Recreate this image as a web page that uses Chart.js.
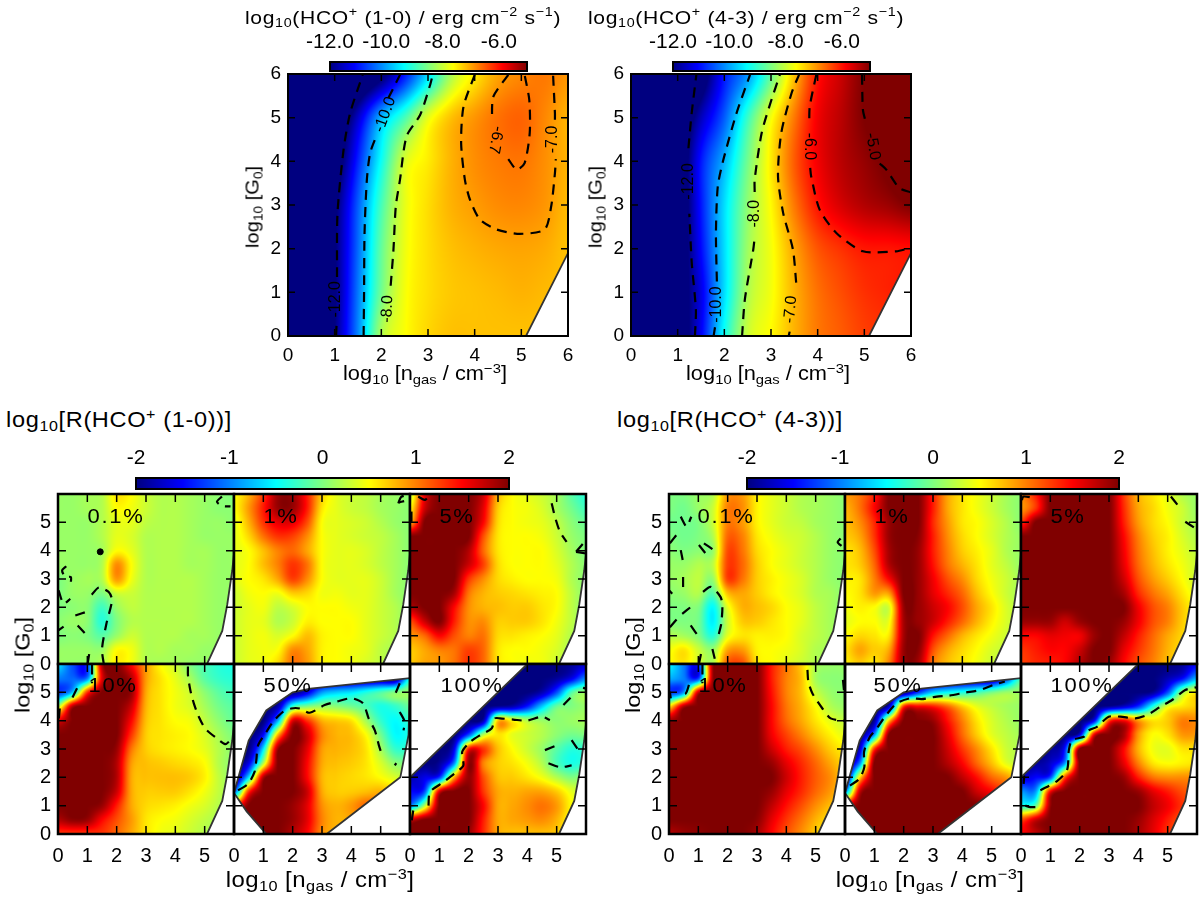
<!DOCTYPE html>
<html>
<head>
<meta charset="utf-8">
<title>HCO+ line emission grids</title>
<script src="https://cdn.jsdelivr.net/npm/chart.js@4/dist/chart.umd.min.js"></script>
<style>
    html, body { margin: 0; padding: 0; background: #fff; }
    #page { position: relative; width: 1200px; height: 901px; overflow: hidden; font-family: "Liberation Sans", Arial, sans-serif; color: #000; }
    #page canvas { position: absolute; }
    .txt { position: absolute; white-space: nowrap; line-height: 1; }
    .txt sub { font-size: 0.68em; vertical-align: -0.3em; line-height: 0; }
    .txt sup { font-size: 0.68em; vertical-align: 0.55em; line-height: 0; }
</style>
</head>
<body>
<div id="page"></div>
<script>
// axis ticks, shared by all panels
const axisTicks = [0, 1, 2, 3, 4, 5, 6];
const fluxTicks = [-12, -10, -8, -6];
const ratioTicks = [-2, -1, 0, 1, 2];

// log10 flux, rows G0 = 6 .. 0 (step 1), columns n = 0 .. 6 (step 0.5)
const gridFlux10 = [
    [-14, -14, -14, -13, -12.2, -11, -9.6, -8.2, -7.5, -7, -6.8, -6.7, -6.9],
    [-14, -14, -13, -11.5, -9.9, -8.9, -7.8, -7.2, -6.9, -6.65, -6.55, -6.8, -7.1],
    [-14, -14, -12.6, -10.9, -9.3, -7.9, -7.5, -7.1, -6.85, -6.72, -6.68, -6.85, -7.1],
    [-14, -14, -12.2, -10.5, -8.9, -7.8, -7.4, -7.1, -6.95, -6.83, -6.8, -6.9, -7.15],
    [-14, -14, -12.1, -10.4, -8.7, -7.75, -7.4, -7.2, -7.1, -7.03, -7, -7.05, -7.2],
    [-14, -14, -12.1, -10.3, -8.6, -7.7, -7.4, -7.25, -7.2, -7.15, -7.1, -7.15, -7.2],
    [-14, -14, -12, -10.2, -8.2, -7.65, -7.35, -7.2, -7.2, -7.2, -7.2, -7.2, -7.2]
];
const gridFlux43 = [
    [-14, -14, -14, -12.5, -11, -10.1, -8.7, -7.2, -6, -5.5, -5, -4.8, -4.7],
    [-14, -14, -13, -11.6, -10.5, -9, -7.7, -6.7, -5.8, -5.4, -5, -4.8, -4.6],
    [-14, -14, -12.8, -11, -9.9, -8.6, -7.5, -6.5, -5.8, -5.4, -5.15, -4.9, -4.6],
    [-14, -14, -12.8, -11, -9.6, -8.4, -7.6, -6.7, -6, -5.6, -5.35, -5.2, -5],
    [-14, -14, -12.7, -11.1, -9.6, -8.3, -7.7, -7, -6.45, -6.2, -6.02, -6, -5.95],
    [-14, -14, -12.6, -11.3, -9.6, -8.2, -7.7, -7.1, -6.65, -6.4, -6.2, -6.1, -6],
    [-14, -14, -12.7, -11.2, -9.3, -8, -7.6, -7.1, -6.7, -6.5, -6.3, -6.2, -6.1]
];

// log10 ratio, rows G0 = 6 .. 0 (step 0.5), columns n = 0 .. 6 (step 0.5)
const gridL01 = [
    [.1, .1, .15, .2, .6, .5, .3, .2, .2, .15, .1, .05, 0],
    [.1, .1, .15, .2, .5, .45, .3, .2, .2, .15, .1, .05, .05],
    [.1, .1, .1, .2, .4, .4, .25, .2, .2, .15, .1, .1, .05],
    [.1, .1, .1, .2, .4, .35, .2, .2, .2, .15, .1, .1, .1],
    [.1, .1, .1, .15, .5, .4, .2, .2, .2, .15, .15, .1, .1],
    [.1, .1, .1, .2, .95, .5, .2, .2, .2, .15, .15, .1, .1],
    [0, .1, .15, .2, .9, .45, .2, .2, .2, .2, .15, .1, .1],
    [0, .1, .1, 0, .3, .3, .2, .2, .2, .2, .15, .1, .1],
    [0, .05, .05, -.25, .1, .25, .2, .2, .2, .2, .15, .1, .1],
    [.05, .1, .05, -.35, 0, .2, .2, .2, .2, .2, .15, .1, .1],
    [0, .05, 0, -.15, .1, .3, .2, .2, .2, .15, .15, .1, .1],
    [.1, .1, .1, .1, .5, .45, .2, .2, .15, .15, .1, .1, .1],
    [.1, .1, .1, .2, .55, .45, .2, .15, .15, .1, .1, .1, .1]
];
const gridL1 = [
    [.5, .8, 1.3, 1.9, 1.9, 1.4, .7, .4, .3, .25, .15, .1, .05],
    [.5, .9, 1.4, 1.9, 1.9, 1.4, .6, .4, .3, .25, .15, .1, .05],
    [.4, .8, 1.3, 1.6, 1.6, 1.2, .5, .4, .35, .3, .2, .1, .05],
    [.4, .65, 1.05, 1.3, 1.25, .95, .5, .4, .35, .3, .25, .15, .05],
    [.4, .5, .75, 1, 1.1, .85, .5, .4, .4, .35, .25, .15, .05],
    [.4, .5, .75, 1, 1.3, 1.05, .5, .4, .4, .35, .25, .15, .05],
    [.4, .5, .6, .85, 1.25, .95, .5, .4, .4, .4, .3, .15, .05],
    [.3, .45, .5, .45, .7, .65, .45, .45, .4, .4, .3, .15, .05],
    [.3, .4, .45, .25, .35, .5, .5, .5, .45, .4, .3, .2, .05],
    [.3, .4, .4, .2, .3, .55, .5, .5, .5, .4, .3, .2, .05],
    [.3, .4, .45, .35, .5, .75, .55, .5, .5, .4, .3, .2, .05],
    [.3, .4, .45, .5, .95, .85, .55, .5, .45, .4, .25, .15, .05],
    [.3, .4, .45, .65, 1.05, .9, .55, .5, .45, .35, .25, .15, .05]
];
const gridL5 = [
    [.2, 1.6, 2, 2, 2, 1.7, .8, .5, .4, .3, .15, -.15, -.35],
    [.5, 1.7, 2, 2, 2, 1.6, .7, .5, .45, .35, .15, -.05, -.25],
    [.8, 2, 2, 2, 2, 1.5, .65, .5, .45, .4, .25, .05, -.1],
    [2, 2, 2, 2, 2, 1.2, .6, .5, .5, .45, .3, .1, 0],
    [2, 2, 2, 2, 1.8, 1.1, .6, .5, .5, .5, .35, .15, 0],
    [2, 2, 2, 2, 1.7, 1.25, .65, .5, .5, .5, .4, .2, .05],
    [2, 2, 2, 2, 1.3, .95, .65, .55, .5, .5, .45, .2, .05],
    [2, 2, 2, 1.85, 1.05, .8, .7, .65, .6, .55, .5, .25, .05],
    [1.8, 2, 2, 1.5, .95, .8, .75, .7, .7, .6, .5, .25, .05],
    [1.2, 1.7, 2, 1.4, .95, .95, .7, .7, .7, .6, .45, .25, .05],
    [.9, 1.1, 1.5, 1.2, 1, 1.05, .65, .6, .55, .5, .4, .2, .05],
    [.7, .85, 1, 1.05, 1.25, 1.1, .6, .5, .5, .45, .35, .15, .05],
    [.7, .85, .9, 1.05, 1.3, 1.1, .6, .5, .45, .45, .3, .15, .05]
];
const gridL10 = [
    [-.6, -1.2, -1.3, 1.8, 2, 1.5, .9, .5, .3, 0, -.2, -.35, -.4],
    [-1, -1.1, -1, 1.6, 2, 1.8, .9, .6, .4, .15, -.15, -.3, -.35],
    [-1.3, -.7, 1.3, 2, 2, 1.9, .85, .6, .45, .3, .05, -.15, -.25],
    [.2, 1.8, 2, 2, 2, 1.7, .8, .6, .45, .35, .15, -.05, -.15],
    [1.6, 2, 2, 2, 2, 1.5, .75, .6, .5, .45, .25, .05, -.1],
    [2, 2, 2, 2, 2, 1.3, .7, .6, .55, .5, .35, .15, 0],
    [2, 2, 2, 2, 1.9, 1.05, .7, .6, .55, .5, .4, .2, .05],
    [2, 2, 2, 2, 1.8, .9, .75, .7, .65, .6, .5, .2, .05],
    [2, 2, 2, 2, 1.8, .85, .75, .75, .75, .7, .55, .25, .05],
    [2, 2, 2, 2, 1.7, .85, .7, .7, .7, .6, .45, .25, .05],
    [2, 2, 2, 1.9, 1.4, .85, .65, .6, .55, .45, .35, .2, .05],
    [1.8, 1.95, 1.9, 1.5, 1.2, .9, .6, .5, .45, .35, .25, .15, .05],
    [1.3, 1.3, 1.3, 1.3, 1.1, .85, .6, .45, .4, .3, .2, .1, .05]
];
const gridL50 = [
    [-2, -2, -2, -2, -2, -2, -2, -2, -2, -2, -2, -2, -2],
    [-2, -2, -2, -2, -2, -2, -2, -2, -2, -2, -2, -2, -.5],
    [-2, -2, -2, -2, -2, -1.6, -.9, -.7, -.6, -.4, -.2, 0, .1],
    [-2, -2, -2, -1.8, -.3, 0, .1, .05, -.05, -.2, -.4, -.3, -.1],
    [-2, -2, -2, -.8, 1.6, 1.3, .8, .7, .6, .15, -.3, -.5, -.3],
    [-2, -2, -1.5, .8, 2, 1.7, 1, .8, .75, .5, -.05, -.5, -.4],
    [-2, -2, -.6, 1.9, 2, 1.6, .9, .8, .75, .6, .15, -.3, -.3],
    [-2, -1.6, .2, 2, 2, 1.5, .85, .75, .7, .6, .35, .05, 0],
    [-2, -.6, 1.8, 2, 2, 1.5, .8, .7, .65, .6, .5, .35, .25],
    [-1.2, 1.3, 2, 2, 2, 1.7, .85, .7, .7, .75, .8, .65, .45],
    [1.2, 2, 2, 2, 1.9, 1.6, .95, .8, .9, 1.1, 1.05, .95, .75],
    [2, 2, 2, 2, 1.9, 1.6, 1, .8, .85, .95, .95, .95, .75],
    [2, 2, 2, 2, 1.8, 1.5, .95, .8, .8, .85, .85, .85, .75]
];
const gridL100 = [
    [-2, -2, -2, -2, -2, -2, -2, -2, -2, -2, -2, -1.9, -1.7],
    [-2, -2, -2, -2, -2, -2, -2, -2, -2, -2, -1.9, -1.6, -1],
    [-2, -2, -2, -2, -2, -2, -2, -2, -2, -1.8, -1.2, -.2, .1],
    [-2, -2, -2, -2, -2, -2, -1.9, -1.8, -1.4, -.7, -.1, 0, .1],
    [-2, -2, -2, -2, -2, -1.8, .7, .5, .2, .1, .05, .1, .15],
    [-2, -2, -2, -2, -1.2, .2, .6, .4, .3, .2, .05, -.05, 0],
    [-2, -2, -2, -1.6, 1.4, 1.3, .75, .5, .3, .1, -.15, -.35, -.3],
    [-2, -2, -1.9, -1, 1.9, 1, .7, .6, .45, .2, -.2, -.4, -.3],
    [-1.8, -1.6, -1.3, .8, 1.9, 1.2, .75, .7, .6, .45, .2, 0, .1],
    [-1.5, -1.2, 1.6, 2, 2, 1.3, .85, .8, .85, .85, .7, .4, .2],
    [-1, .2, 2, 2, 2, 1.5, .85, .85, .95, 1.05, .9, .5, .2],
    [1.7, 2, 2, 2, 2, 1.4, .85, .85, .9, .95, .8, .45, .2],
    [2, 2, 2, 2, 1.9, 1.35, .85, .75, .75, .75, .7, .4, .2]
];
const gridR01 = [
    [0, 0, .1, .2, .9, .9, .55, .4, .3, .2, .15, .1, .05],
    [0, -.05, .1, .3, 1, .95, .55, .4, .3, .2, .15, .1, .05],
    [-.05, -.05, 0, .3, 1, .9, .55, .4, .3, .25, .15, .1, .05],
    [0, -.05, 0, .2, 1.1, 1, .6, .45, .35, .3, .2, .1, .05],
    [.05, 0, .05, .1, 1.2, 1.05, .65, .5, .4, .3, .2, .1, .05],
    [.1, .1, .2, .25, 1.25, 1.1, .7, .5, .4, .3, .2, .1, .05],
    [.1, .15, .25, .1, 1.25, 1.05, .7, .55, .45, .35, .2, .1, .05],
    [.05, .1, .2, -.15, .75, .85, .7, .55, .45, .35, .2, .15, .05],
    [0, 0, 0, -.5, .4, .8, .75, .65, .5, .4, .25, .15, .05],
    [0, 0, -.05, -.55, .3, .7, .7, .6, .5, .4, .25, .15, .05],
    [.2, .15, 0, -.35, .4, .6, .55, .55, .5, .35, .25, .15, .05],
    [.45, .6, .3, .1, .85, .9, .55, .5, .45, .35, .2, .15, .05],
    [.5, .6, .35, .2, 1.15, 1.2, .6, .5, .4, .3, .2, .1, .05]
];
const gridR1 = [
    [.9, 1.05, 1.4, 2, 2, 2, 1.4, .85, .6, .45, .3, .15, .05],
    [.8, 1.05, 1.5, 2, 2, 2, 1.4, .85, .6, .45, .3, .15, .05],
    [.75, .95, 1.35, 1.9, 2, 2, 1.35, .9, .6, .5, .35, .2, .05],
    [.7, .85, 1.3, 1.9, 2, 1.95, 1.4, .95, .65, .5, .35, .2, .1],
    [.6, .75, 1.2, 1.85, 2, 1.9, 1.4, 1, .7, .55, .4, .2, .1],
    [.6, .7, 1.1, 1.8, 2, 1.9, 1.45, 1.05, .8, .6, .4, .25, .1],
    [.55, .6, 1, 1.5, 2, 1.9, 1.55, 1.2, .95, .65, .45, .3, .15],
    [.5, .6, .9, .9, 2, 1.9, 1.6, 1.35, 1.1, .75, .5, .3, .15],
    [.45, .55, .5, .35, 1.9, 1.9, 1.7, 1.5, 1.2, .85, .6, .35, .2],
    [.4, .5, .5, .45, 1.85, 1.9, 1.7, 1.4, 1.1, .8, .55, .35, .2],
    [.5, .65, .6, .6, 1.85, 2, 1.45, 1.1, .8, .6, .45, .3, .15],
    [.6, .85, .7, .85, 1.9, 1.95, 1.2, .85, .65, .5, .35, .25, .15],
    [.55, .7, .6, 1, 1.9, 1.85, 1.05, .75, .6, .45, .3, .2, .1]
];
const gridR5 = [
    [1, 1.4, 2, 2, 2, 2, 2, 1.3, .8, .6, .4, .2, .1],
    [.9, 1.3, 2, 2, 2, 2, 2, 1.35, .85, .65, .45, .3, .1],
    [1.3, 2, 2, 2, 2, 2, 2, 1.4, .9, .65, .5, .3, .15],
    [2, 2, 2, 2, 2, 2, 2, 1.5, 1, .7, .55, .35, .2],
    [2, 2, 2, 2, 2, 2, 2, 1.55, 1.05, .75, .55, .4, .25],
    [2, 2, 2, 2, 2, 2, 2, 1.6, 1.1, .8, .6, .45, .3],
    [2, 2, 2, 2, 2, 2, 2, 1.7, 1.2, .9, .7, .5, .3],
    [2, 2, 2, 2, 2, 2, 2, 1.85, 1.35, 1.05, .85, .6, .4],
    [2, 2, 2, 2, 2, 2, 2, 2, 1.55, 1.2, 1, .7, .5],
    [1.9, 1.9, 1.9, 1.7, 1.9, 2, 2, 1.9, 1.55, 1.2, 1, .7, .5],
    [1.5, 1.5, 1.6, 1.55, 1.55, 1.9, 2, 1.75, 1.4, 1.1, .85, .65, .4],
    [1.3, 1.4, 1.5, 1.5, 1.7, 2, 2, 1.6, 1.3, 1.05, .8, .6, .4],
    [1.25, 1.35, 1.4, 1.5, 1.8, 2, 1.9, 1.5, 1.2, 1, .75, .55, .35]
];
const gridR10 = [
    [-.5, -1, -1.4, 1.9, 2, 2, 2, 1.4, 1.05, .7, .2, .1, .1],
    [-.8, -1, -1.3, 1.9, 2, 2, 2, 1.4, 1, .75, .15, .05, .05],
    [-1.3, -.9, 1.7, 2, 2, 2, 2, 1.45, 1, .75, .3, .1, .05],
    [.6, 1.8, 2, 2, 2, 2, 2, 1.5, 1.05, .8, .5, .2, .1],
    [1.9, 2, 2, 2, 2, 2, 2, 1.5, 1.1, .85, .6, .4, .25],
    [2, 2, 2, 2, 2, 2, 2, 1.55, 1.25, 1, .75, .55, .4],
    [2, 2, 2, 2, 2, 2, 2, 1.7, 1.4, 1.2, .95, .7, .55],
    [2, 2, 2, 2, 2, 2, 2, 1.9, 1.6, 1.35, 1.1, .85, .65],
    [2, 2, 2, 2, 2, 2, 2, 2, 1.7, 1.4, 1.15, .95, .7],
    [2, 2, 2, 2, 2, 2, 2, 1.9, 1.6, 1.35, 1.1, .9, .65],
    [2, 2, 2, 2, 2, 2, 2, 1.75, 1.45, 1.2, .95, .75, .55],
    [2, 2, 2, 2, 2, 2, 1.95, 1.6, 1.3, 1.05, .8, .6, .45],
    [1.8, 1.9, 1.95, 2, 2, 2, 1.85, 1.5, 1.2, .95, .7, .5, .4]
];
const gridR50 = [
    [-2, -2, -2, -2, -2, -2, -2, -2, -2, -2, -2, -2, -2],
    [-2, -2, -2, -2, -2, -2, -2, -2, -2, -2, -2, -1.3, -.3],
    [-2, -2, -2, -2, -2, -1.3, -.7, -.5, -.4, -.25, -.05, .1, .1],
    [-2, -2, -2, -1.7, 1.3, 1.5, 1.4, 1.1, .7, .4, .25, .15, .1],
    [-2, -2, -1.9, .7, 2, 2, 1.9, 1.45, 1, .6, .35, .2, .1],
    [-2, -2, -.9, 2, 2, 2, 2, 1.6, 1.1, .7, .4, .25, .15],
    [-2, -1.7, 1.3, 2, 2, 2, 2, 1.7, 1.3, .95, .6, .3, .2],
    [-2, -1, 2, 2, 2, 2, 2, 1.8, 1.5, 1.1, .75, .4, .25],
    [-2, .6, 2, 2, 2, 2, 2, 2, 1.75, 1.45, 1.1, .9, .6],
    [-1, 1.7, 2, 2, 2, 2, 2, 2, 2, 1.7, 1.5, 1.2, .9],
    [1.7, 2, 2, 2, 2, 2, 2, 2, 2, 2, 1.8, 1.5, 1.2],
    [2, 2, 2, 2, 2, 2, 2, 2, 2, 2, 1.8, 1.5, 1.2],
    [2, 2, 2, 2, 2, 2, 2, 2, 2, 1.9, 1.7, 1.4, 1.2]
];
const gridR100 = [
    [-2, -2, -2, -2, -2, -2, -2, -2, -2, -2, -2, -1.9, -1.5],
    [-2, -2, -2, -2, -2, -2, -2, -2, -2, -2, -1.8, -1.5, -.8],
    [-2, -2, -2, -2, -2, -2, -2, -2, -2, -1.9, -1.2, .1, .55],
    [-2, -2, -2, -2, -2, -2, -1.9, -1.7, -1.3, -.4, .4, .6, .7],
    [-2, -2, -2, -2, -2, -1.5, 1.2, 1.5, .9, .6, .7, 1, .95],
    [-2, -2, -2, -2, -1.6, 1.6, 2, 1.85, .9, .5, .6, .9, .9],
    [-2, -2, -1.9, -1.4, 2, 2, 2, 1.5, .8, .45, .4, .6, .6],
    [-2, -1.9, -1.7, -.9, 2, 2, 2, 1.6, 1, .6, .5, .55, .6],
    [-1.7, -1.5, -1.2, 1.2, 2, 2, 2, 1.9, 1.4, 1.05, .95, .95, .95],
    [-.9, -.9, 1.5, 2, 2, 2, 2, 2, 1.9, 1.6, 1.4, 1.2, 1.1],
    [-.4, -.1, 1.9, 2, 2, 2, 2, 2, 2, 1.75, 1.55, 1.3, 1.1],
    [1.2, 1.7, 2, 2, 2, 2, 2, 2, 1.9, 1.65, 1.4, 1.15, 1],
    [1.5, 1.75, 2, 2, 2, 2, 2, 2, 1.85, 1.6, 1.3, 1.1, .95]
];

// edge of the model grid in each panel type
const domainTop = [[0, 0], [5.1, 0], [6, 1.9], [6, 6], [0, 6], [0, 0]];
const domainFull = [[0, 0], [5.08, 0], [5.6, 1.17], [5.77, 2.1], [5.94, 3.3], [6, 3.9], [6, 6], [0, 6], [0, 0]];
const domain50 = [[1.1, 0], [.43, .8], [0, 1.45], [.5, 3.3], [1.1, 4.36], [2, 5], [2.6, 5.13], [6, 5.5], [5.95, 3.5], [5.67, 2], [3.16, 0], [1.1, 0]];
const domain100 = [[0, 0], [5.08, 0], [5.6, 1.17], [5.77, 2.1], [5.94, 3.3], [6, 3.9], [6, 6], [4, 6], [0, 2], [0, 0]];

// dashed contours
const contFlux10 = [
    [[1.03, 0], [1.04, .25]], [[1.05, 1.35], [1.06, 2.8], [1.19, 4.26], [1.33, 5.1], [1.6, 5.98]],
    [[1.62, 0], [1.63, 1], [1.64, 2.36], [1.69, 3.58], [1.76, 4.19], [1.9, 4.6]], [[2.15, 5.45], [2.4, 5.98]],
    [[2.2, 1.15], [2.26, 1.98], [2.31, 2.97], [2.4, 3.58], [2.54, 4.57], [2.83, 5.06], [3.04, 5.73], [3.1, 5.98]],
    [[4, 5.98], [3.76, 5.25], [3.71, 4.42], [3.79, 3.58], [3.9, 3.12], [4.11, 2.67], [4.47, 2.44], [4.97, 2.34], [5.5, 2.44], [5.64, 2.97], [5.72, 3.73], [5.74, 4.05]],
    [[5.72, 4.95], [5.72, 5.1], [5.68, 5.98]],
    [[4.72, 5.98], [4.4, 5.48], [4.37, 4.95]], [[4.72, 4.05], [4.9, 3.81], [5.07, 3.96], [5.18, 4.65], [5.17, 5.41], [5.07, 5.98]]
];
const contFlux43 = [
    [[1.37, 0], [1.39, .6], [1.3, 1.7], [1.25, 2.8]], [[1.23, 4.3], [1.3, 5.1], [1.4, 5.98]],
    [[1.77, 0], [1.8, .2]], [[1.84, 1.25], [1.82, 2.36], [1.86, 3.43], [1.98, 4.04], [2.26, 5.1], [2.55, 5.98]],
    [[2.38, 0], [2.44, .84], [2.62, 1.98], [2.65, 2.25]], [[2.65, 3.3], [2.65, 3.58], [2.8, 4.65], [3.01, 5.41], [3.19, 5.98]],
    [[3.38, 0], [3.4, .1]], [[3.54, 1.22], [3.47, 1.98], [3.26, 2.82], [3.15, 3.66], [3.22, 4.65], [3.44, 5.56], [3.6, 5.98]],
    [[3.97, 5.98], [3.83, 5.25], [3.82, 4.85]], [[3.84, 3.85], [3.86, 3.66], [4.04, 2.9], [4.4, 2.36], [4.97, 1.94], [5.68, 1.94], [5.99, 2.02]],
    [[4.95, 5.98], [4.97, 5.18], [5.03, 4.9]], [[5.33, 3.95], [5.47, 3.81], [5.75, 3.39], [5.99, 3.29]]
];
const contL01 = [
    [[1.01, 0], [1.08, .47]],
    [[1.56, 0], [1.5, .53], [1.65, 1.42], [1.84, 2.25], [1.73, 2.54], [1.39, 2.7], [1.13, 2.42]],
    [[.59, 1.71], [1.05, 1.87]], [[.67, 1.36], [.99, 1]], [[0, 1.18], [.19, 1.32]],
    [[.02, 2.6], [.19, 2.13], [.42, 2.3]],
    [[.28, 3.45], [.14, 3.3], [.25, 3.07], [.44, 3.07], [.44, 2.9]],
    [[5.59, 5.91], [5.42, 5.73], [5.59, 5.58], [5.88, 5.56]]
];
const dotsL01 = [[1.44, 3.96]];
const contL1 = [[[5.6, 5.67], [5.7, 5.9], [5.94, 5.97]], [[5.62, 5.7], [5.8, 5.75]]];
const contL5 = [
    [[4.83, 5.67], [4.94, 5.2], [5.11, 4.67], [5.34, 4.31]],
    [[5.66, 3.96], [6, 4.37]], [[5.66, 3.96], [6, 3.9]],
    [[.28, 5.91], [.51, 5.79], [.68, 5.97]], [[.05, 5.38], [.05, 4.96]]
];
const contL10 = [
    [[1.16, 5.98], [1.16, 5.32]], [[.65, 5.14], [.48, 4.79]], [[.06, 4.43], [.02, 3.96]],
    [[4.43, 5.91], [4.43, 5.61], [4.51, 5.08], [4.63, 4.61], [4.8, 4.14], [5.02, 3.72], [5.42, 3.37], [5.7, 3.17], [5.88, 3.31]]
];
const contL50 = [
    [[.14, 1.54], [.48, 1.77], [.7, 2.19], [.76, 2.6], [.82, 3.13], [1.1, 3.6], [1.33, 3.96], [1.67, 4.31], [1.95, 4.43], [2.24, 4.43], [2.58, 4.28], [3.09, 4.55], [3.49, 4.67], [4, 4.79], [4.4, 4.61], [4.59, 4.08], [4.8, 3.66], [4.94, 3.13], [5.06, 2.74]],
    [[5.48, 2.42], [5.53, 2.5]],
    [[5.65, 5.32], [5.48, 4.9]], [[5.65, 4.31], [5.82, 3.96], [5.78, 3.66]]
];
const contL100 = [
    [[.11, .83], [.06, .47]],
    [[.63, 1], [.68, 1.48], [1.14, 1.83], [1.59, 2.19], [1.82, 2.42], [1.78, 2.9], [2.05, 3.25], [2.39, 3.49], [2.78, 3.72], [2.9, 4.08], [3.07, 4.08], [3.52, 4.04], [3.98, 4], [4.49, 4.14], [4.77, 4.02]],
    [[5.23, 4.55], [5.51, 4.85]], [[5.97, 5.14], [5.9, 5.16]],
    [[4.6, 2.96], [5, 3.13]], [[5.51, 3.31], [5.74, 2.96]], [[4.72, 2.5], [5.11, 2.36], [5.51, 2.42]]
];
const contR01 = [
    [[.4, 5.2], [.6, 4.85], [.76, 5.2]], [[.03, 4.26], [.28, 4.59]], [[.4, 4.02], [.49, 3.55]],
    [[.48, 3.07], [.48, 2.6]], [[0, 2.6], [.11, 2.48]], [[.45, 1.77], [.74, 2.01]], [[.03, 1.3], [.28, 1.6]],
    [[.74, 1.36], [1.02, .95]], [[1.02, 0], [1.1, .41]], [[1.48, .53], [1.59, .06]],
    [[1.7, 1.06], [1.78, 1.42], [1.82, 2.01], [1.76, 2.36], [1.42, 2.72], [1.02, 2.42]],
    [[1.02, 4.2], [1.25, 3.9]], [[1.19, 4.26], [1.53, 4.02]], [[5.85, 4.43], [5.75, 4.3], [5.91, 4.14]]
];
const contR1 = [];
const contR5 = [
    [[.03, 5.79], [.08, 5.91], [.43, 5.87]], [[5.11, 5.91], [5.38, 5.56]], [[5.6, 5.02], [5.94, 4.79]]
];
const contR10 = [
    [[1.14, 5.98], [1.14, 5.32]], [[.68, 5.26], [.57, 4.96], [.34, 4.9]], [[.03, 5.02], [.06, 4.79]],
    [[4.72, 5.79], [4.75, 5.38], [4.89, 4.96], [5.23, 4.43], [5.51, 4.08], [5.97, 4]],
    [[5.93, 5.44], [5.97, 5.02]]
];
const contR50 = [
    [[.17, 1.71], [.49, 1.95], [.66, 2.36], [.65, 2.9], [.85, 3.43], [1.08, 3.72], [1.36, 4.14], [1.76, 4.61], [2.22, 4.79], [2.61, 4.76], [3.13, 4.85], [3.52, 4.88], [4.09, 4.99], [4.6, 5.08], [5.06, 5.26], [5.45, 5.38]]
];
const contR100 = [
    [[.15, 1], [.32, .95], [.55, .95]], [[.09, 1.77], [.11, 2.07]],
    [[.66, 1.54], [1.23, 1.87], [1.57, 2.25], [1.63, 2.95], [1.74, 3.31], [2.14, 3.43], [2.31, 3.66], [2.59, 3.78], [2.99, 4.14], [3.39, 4.14], [3.9, 4.08], [4.3, 4.2], [4.75, 4.49], [5.15, 4.73], [5.6, 5.08], [5.98, 5.18]]
];

// inline contour labels: text, n, G0, angle
const labelsFlux10 = [['-12.0', 1.01, .84, -90], ['-10.0', 2.08, 5.07, -70], ['-8.0', 2.13, .62, -88], ['-6.7', 4.45, 4.49, 100], ['-7.0', 5.68, 4.5, -90]];
const labelsFlux43 = [['-12.0', 1.23, 3.54, -90], ['-10.0', 1.84, .72, -90], ['-8.0', 2.65, 2.8, -90], ['-7.0', 3.42, .61, -85], ['-6.0', 3.83, 4.34, 90], ['-5.0', 5.18, 4.34, 80]];

const NX = 13;
const page = document.getElementById('page');

function jet(t) {
    const c = v => Math.max(0, Math.min(1, v));
    const u = c(t);
    return [c(1.5 - Math.abs(4 * u - 3)) * 255, c(1.5 - Math.abs(4 * u - 2)) * 255, c(1.5 - Math.abs(4 * u - 1)) * 255];
}

function cubic(a, b, c, d, t) {
    return b + 0.5 * t * (c - a + t * (2 * a - 5 * b + 4 * c - d + t * (3 * (b - c) + d - a)));
}

// smooth shading between the grid values, like imshow's interpolation
function sampleCells(cells, ny, gx, gy) {
    const ix = Math.floor(gx), iy = Math.floor(gy);
    const at = (r, c) => cells[Math.max(0, Math.min(ny - 1, r)) * NX + Math.max(0, Math.min(NX - 1, c))].v;
    const row = r => cubic(at(r, ix - 1), at(r, ix), at(r, ix + 1), at(r, ix + 2), gx - ix);
    return cubic(row(iy - 1), row(iy), row(iy + 1), row(iy + 2), gy - iy);
}

const heatPlugin = {
    id: 'heat',
    beforeDatasetsDraw(chart, args, opts) {
        if (!opts.range) return;
        const { ctx, chartArea: a, scales: { x, y } } = chart;
        const w = Math.round(a.right - a.left), h = Math.round(a.bottom - a.top);
        const off = document.createElement('canvas');
        off.width = w; off.height = h;
        const octx = off.getContext('2d');
        const img = octx.createImageData(w, h);
        const cells = chart.data.datasets[0].data;
        const ny = cells.length / NX;
        const [lo, hi] = opts.range;
        for (let j = 0; j < h; j++) {
            const gv = y.getValueForPixel(a.top + j + 0.5);
            for (let i = 0; i < w; i++) {
                const xv = x.getValueForPixel(a.left + i + 0.5);
                const v = opts.bar ? xv : sampleCells(cells, ny, xv / 0.5, (6 - gv) / (6 / (ny - 1)));
                const rgb = jet((v - lo) / (hi - lo));
                const k = (j * w + i) * 4;
                img.data[k] = rgb[0]; img.data[k + 1] = rgb[1]; img.data[k + 2] = rgb[2]; img.data[k + 3] = 255;
            }
        }
        octx.putImageData(img, 0, 0);
        ctx.save();
        if (opts.domain) {
            ctx.beginPath();
            opts.domain.forEach((p, i) => {
                const px = x.getPixelForValue(p[0]), py = y.getPixelForValue(p[1]);
                if (i) ctx.lineTo(px, py); else ctx.moveTo(px, py);
            });
            ctx.clip();
        }
        ctx.drawImage(off, a.left, a.top);
        ctx.restore();
    },
    afterDatasetsDraw(chart, args, opts) {
        const { ctx, chartArea: a, scales: { x, y } } = chart;
        ctx.save();
        (opts.labels || []).forEach(l => {
            ctx.save();
            ctx.translate(x.getPixelForValue(l[1]), y.getPixelForValue(l[2]));
            ctx.rotate(l[3] * Math.PI / 180);
            ctx.font = '16px "Liberation Sans"';
            ctx.fillStyle = '#000';
            ctx.textAlign = 'center';
            ctx.textBaseline = 'middle';
            ctx.fillText(l[0], 0, 0);
            ctx.restore();
        });
        ctx.strokeStyle = '#000';
        if (opts.tickLen) {
            ctx.lineWidth = 1.5;
            ctx.beginPath();
            axisTicks.forEach(v => {
                const px = x.getPixelForValue(v), py = y.getPixelForValue(v);
                ctx.moveTo(px, a.bottom); ctx.lineTo(px, a.bottom - opts.tickLen);
                ctx.moveTo(px, a.top); ctx.lineTo(px, a.top + opts.tickLen);
                ctx.moveTo(a.left, py); ctx.lineTo(a.left + opts.tickLen, py);
                ctx.moveTo(a.right, py); ctx.lineTo(a.right - opts.tickLen, py);
            });
            ctx.stroke();
        }
        ctx.lineWidth = opts.frame || 2;
        ctx.strokeRect(a.left, a.top, a.right - a.left, a.bottom - a.top);
        ctx.restore();
    }
};

function addCanvas(left, top, w, h) {
    const cv = document.createElement('canvas');
    cv.width = w; cv.height = h;
    cv.style.left = left + 'px';
    cv.style.top = top + 'px';
    cv.style.width = w + 'px';
    cv.style.height = h + 'px';
    page.appendChild(cv);
    return cv;
}

function addText(html, x, y, size, opts) {
    const o = opts || {};
    const el = document.createElement('div');
    el.className = 'txt';
    el.innerHTML = html;
    el.style.left = x + 'px';
    el.style.top = y + 'px';
    el.style.fontSize = size + 'px';
    if (o.spacing) el.style.letterSpacing = o.spacing + 'px';
    el.style.transform = 'translate(-50%,-50%)' + (o.rot ? ' rotate(' + o.rot + 'deg)' : '') + (o.sx ? ' scaleX(' + o.sx + ')' : '');
    page.appendChild(el);
}

function lineDataset(points, dash, width, color) {
    return {
        type: 'line',
        data: points.map(p => ({ x: p[0], y: p[1] })),
        borderColor: color,
        borderWidth: width,
        borderDash: dash,
        pointRadius: 0,
        tension: dash.length ? 0.25 : 0,
        fill: false
    };
}

// the tick labels must not push the plot area in
function zeroPadding(s) {
    s.paddingLeft = 0; s.paddingRight = 0; s.paddingTop = 0; s.paddingBottom = 0;
}

function drawPanel(p) {
    const ml = 44, mb = 32, mt = 10, mr = 10;
    const w = p.x1 - p.x0, h = p.y1 - p.y0;
    const cv = addCanvas(p.x0 - ml, p.y0 - mt, w + ml + mr, h + mt + mb);
    const cells = [];
    const ny = p.grid.length;
    p.grid.forEach((row, r) => row.forEach((v, c) => cells.push({ x: c * 0.5, y: 6 - r * 6 / (ny - 1), v })));
    const datasets = [{ type: 'scatter', data: cells, pointRadius: 0, showLine: false }];
    datasets.push(lineDataset(p.domain, [], 1.8, '#333'));
    (p.contours || []).forEach(c => datasets.push(lineDataset(c, [10, 7], 2.2, '#000')));
    if (p.dots) datasets.push({ type: 'scatter', data: p.dots.map(d => ({ x: d[0], y: d[1] })), pointRadius: 3, backgroundColor: '#000', borderColor: '#000' });
    const tickOpts = (show, pad) => ({
        display: show,
        padding: pad,
        color: '#000',
        font: { family: 'Liberation Sans', size: p.font },
        autoSkip: false,
        maxRotation: 0,
        callback: v => (p.lastLabel >= v ? String(v) : '')
    });
    new Chart(cv, {
        type: 'scatter',
        data: { datasets },
        plugins: [heatPlugin],
        options: {
            responsive: false,
            animation: false,
            devicePixelRatio: 1,
            events: [],
            layout: { autoPadding: false, padding: { top: mt, right: mr, left: 0, bottom: 0 } },
            plugins: {
                legend: { display: false },
                tooltip: { enabled: false },
                heat: { range: p.range, domain: p.domain, labels: p.labels, tickLen: p.tickLen, frame: p.frame }
            },
            scales: {
                x: {
                    type: 'linear', min: 0, max: 6,
                    afterBuildTicks: s => { s.ticks = axisTicks.map(v => ({ value: v })); },
                    afterFit: s => { s.height = mb; zeroPadding(s); },
                    grid: { drawOnChartArea: false, drawTicks: false },
                    border: { display: false },
                    ticks: tickOpts(p.showX, p.padX)
                },
                y: {
                    type: 'linear', min: 0, max: 6,
                    afterBuildTicks: s => { s.ticks = axisTicks.map(v => ({ value: v })); },
                    afterFit: s => { s.width = ml; zeroPadding(s); },
                    grid: { drawOnChartArea: false, drawTicks: false },
                    border: { display: false },
                    ticks: tickOpts(p.showY, p.padY)
                }
            }
        }
    });
}

function drawColorbar(b) {
    const mt = 34, mx = 26;
    const cv = addCanvas(b.x0 - mx, b.y0 - mt, b.x1 - b.x0 + 2 * mx, b.y1 - b.y0 + mt + 2);
    new Chart(cv, {
        type: 'scatter',
        data: { datasets: [{ data: [], pointRadius: 0 }] },
        plugins: [heatPlugin],
        options: {
            responsive: false,
            animation: false,
            devicePixelRatio: 1,
            events: [],
            layout: { autoPadding: false, padding: { left: mx, right: mx, bottom: 2, top: 0 } },
            plugins: {
                legend: { display: false },
                tooltip: { enabled: false },
                heat: { range: [b.min, b.max], bar: true, frame: 2 }
            },
            scales: {
                x: {
                    type: 'linear', position: 'top', min: b.min, max: b.max,
                    afterBuildTicks: s => { s.ticks = b.ticks.map(v => ({ value: v })); },
                    afterFit: s => { s.height = mt; zeroPadding(s); },
                    grid: { color: '#000', lineWidth: 1, drawTicks: false },
                    border: { display: false },
                    ticks: {
                        padding: 7, color: '#000', autoSkip: false, maxRotation: 0,
                        font: { family: 'Liberation Sans', size: b.font },
                        callback: v => b.fmt(v)
                    }
                },
                y: { display: false, min: 0, max: 1 }
            }
        }
    });
}

// top row
const topCommon = { y0: 74, y1: 336, font: 19, lastLabel: 6, showX: true, showY: true, padX: 8, padY: 7, tickLen: 7, frame: 2, domain: domainTop, range: [-12, -5] };
drawPanel({ ...topCommon, x0: 288, x1: 568, grid: gridFlux10, contours: contFlux10, labels: labelsFlux10 });
drawPanel({ ...topCommon, x0: 631, x1: 911, grid: gridFlux43, contours: contFlux43, labels: labelsFlux43 });

// the two blocks of ratio panels
const rowY = [494, 664, 834];
function drawBlock(cols, grids, conts, dots) {
    const domains = [domainFull, domainFull, domainFull, domainFull, domain50, domain100];
    grids.forEach((grid, i) => {
        const c = i % 3, r = Math.floor(i / 3);
        drawPanel({
            x0: cols[c], x1: cols[c + 1], y0: rowY[r], y1: rowY[r + 1],
            grid, contours: conts[i], dots: dots[i], domain: domains[i], range: [-2, 2],
            font: 20, lastLabel: 5, showX: r === 1, showY: c === 0, padX: 10, padY: 7, tickLen: 8, frame: 2.5
        });
    });
}
drawBlock([58, 234, 410, 586], [gridL01, gridL1, gridL5, gridL10, gridL50, gridL100], [contL01, contL1, contL5, contL10, contL50, contL100], [dotsL01]);
drawBlock([669, 845, 1021, 1197], [gridR01, gridR1, gridR5, gridR10, gridR50, gridR100], [contR01, contR1, contR5, contR10, contR50, contR100], []);

// colour bars
const fmtFlux = v => v.toFixed(1);
drawColorbar({ x0: 330, x1: 527, y0: 62, y1: 71, min: -12, max: -5, ticks: fluxTicks, fmt: fmtFlux, font: 21 });
drawColorbar({ x0: 673, x1: 870, y0: 62, y1: 71, min: -12, max: -5, ticks: fluxTicks, fmt: fmtFlux, font: 21 });
drawColorbar({ x0: 136, x1: 509, y0: 478, y1: 489, min: -2, max: 2, ticks: ratioTicks, fmt: v => String(v), font: 21 });
drawColorbar({ x0: 747, x1: 1119, y0: 478, y1: 489, min: -2, max: 2, ticks: ratioTicks, fmt: v => String(v), font: 21 });

// titles and axis names
const logSub = 'log<sub>10</sub>';
const nName = logSub + ' [n<sub>gas</sub> / cm<sup>&minus;3</sup>]';
const gName = logSub + ' [G<sub>0</sub>]';
const fluxTitle = line => logSub + '(HCO<sup>+</sup> (' + line + ') / erg cm<sup>&minus;2</sup> s<sup>&minus;1</sup>)';
const ratioTitle = line => logSub + '[R(HCO<sup>+</sup> (' + line + '))]';
addText(fluxTitle('1-0'), 403, 17, 19, { spacing: 0.6, sx: 1.11 });
addText(fluxTitle('4-3'), 746, 17, 19, { spacing: 0.6, sx: 1.11 });
addText(nName, 425, 373, 20, { sx: 1.09 });
addText(nName, 768, 373, 20, { sx: 1.09 });
addText(gName, 252, 207, 19, { rot: -90, sx: 1.06 });
addText(gName, 595, 207, 19, { rot: -90, sx: 1.06 });
addText(ratioTitle('1-0'), 119, 420, 22, { spacing: 0.6, sx: 1.07 });
addText(ratioTitle('4-3'), 730, 420, 22, { spacing: 0.6, sx: 1.07 });
addText(nName, 320, 880, 22, { spacing: 0.4, sx: 1.09 });
addText(nName, 930, 880, 22, { spacing: 0.4, sx: 1.09 });
addText(gName, 22, 665, 21, { rot: -90, sx: 1.12 });
addText(gName, 632, 665, 21, { rot: -90, sx: 1.12 });

// fraction labels inside the panels
const fractionNames = ['0.1%', '1%', '5%', '10%', '50%', '100%'];
const fractionLeft = [[116, 516], [281, 516], [457, 516], [113, 685], [288, 685], [472, 685]];
const fractionRight = [[726, 516], [892, 516], [1068, 516], [723, 685], [898, 685], [1082, 685]];
fractionNames.forEach((name, i) => {
    addText(name, fractionLeft[i][0], fractionLeft[i][1], 20, { spacing: 1.5, sx: 1.1 });
    addText(name, fractionRight[i][0], fractionRight[i][1], 20, { spacing: 1.5, sx: 1.1 });
});
</script>
</body>
</html>
